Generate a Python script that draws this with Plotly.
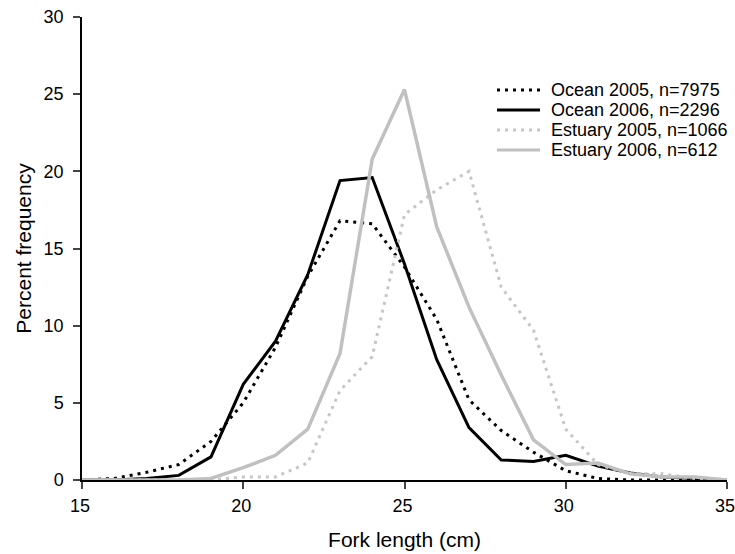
import plotly.graph_objects as go

fork_length = list(range(15, 36))

ocean_2005 = [0, 0.1, 0.5, 1.0, 2.5, 5.0, 8.6, 13.2, 16.8, 16.6, 13.8, 10.4, 5.2, 3.2, 1.8, 0.6, 0.1, 0, 0, 0, 0]
ocean_2006 = [0, 0, 0.1, 0.3, 1.5, 6.2, 9.0, 13.3, 19.4, 19.6, 14.0, 7.8, 3.4, 1.3, 1.2, 1.6, 0.9, 0.45, 0.2, 0.1, 0]
estuary_2005 = [0, 0, 0, 0, 0, 0.2, 0.2, 1.1, 5.8, 8.0, 17.2, 18.8, 20.0, 12.5, 9.7, 3.3, 1.0, 0.4, 0.4, 0.1, 0]
estuary_2006 = [0, 0, 0, 0, 0.1, 0.8, 1.6, 3.3, 8.2, 20.8, 25.3, 16.4, 11.2, 6.8, 2.6, 1.0, 1.1, 0.4, 0.2, 0.2, 0]

series_names = ["Ocean 2005, n=7975", "Ocean 2006, n=2296", "Estuary 2005, n=1066", "Estuary 2006, n=612"]
x_ticks = [15, 20, 25, 30, 35]
y_ticks = [0, 5, 10, 15, 20, 25, 30]

styles = [
    dict(color="#000000", width=3, dash="3px,5px"),
    dict(color="#000000", width=3, dash="solid"),
    dict(color="#c6c6c6", width=3, dash="3px,5px"),
    dict(color="#c0c0c0", width=3.5, dash="solid"),
]

fig = go.Figure()
for name, ys, st in zip(series_names, [ocean_2005, ocean_2006, estuary_2005, estuary_2006], styles):
    fig.add_trace(go.Scatter(x=fork_length, y=ys, mode="lines", name=name, line=st,
                             showlegend=False))

FIG_W, FIG_H = 735, 554
L, R, T, B = 82, 727, 17, 480
W, H = R - L, B - T

# manual legend (sample line + label), in paper coordinates
row_y = [90, 110, 130, 150]
for name, st, yy in zip(series_names, styles, row_y):
    py = (B - yy) / H
    fig.add_shape(type="line", xref="paper", yref="paper",
                  x0=(497 - L) / W, x1=(540 - L) / W, y0=py, y1=py,
                  line=dict(color=st["color"], width=3, dash=st["dash"]))
    fig.add_annotation(xref="paper", yref="paper", x=(549 - L) / W, y=py,
                       xanchor="left", yanchor="middle", text=name, showarrow=False,
                       font=dict(size=18, color="#000000"))

font = "Liberation Sans, Arial, sans-serif"
fig.update_layout(
    width=FIG_W, height=FIG_H,
    margin=dict(l=L, r=FIG_W - R, t=T, b=FIG_H - B),
    paper_bgcolor="white", plot_bgcolor="white",
    font=dict(family=font, size=18, color="#000000"),
    showlegend=False,
    xaxis=dict(range=[15, 35], tickvals=x_ticks, ticks="outside", ticklen=7, tickwidth=1.5,
               showline=True, linecolor="black", linewidth=1.5, showgrid=False, zeroline=False,
               automargin=False, ticklabeloverflow="allow", ticklabelstandoff=2,
               ticklabelshift=-2,
               title=dict(text="Fork length (cm)", font=dict(size=21), standoff=17),
               tickfont=dict(size=18)),
    yaxis=dict(range=[0, 30], tickvals=y_ticks, ticks="outside", ticklen=7, tickwidth=1.5,
               showline=True, linecolor="black", linewidth=1.5, showgrid=False, zeroline=False,
               automargin=False, ticklabeloverflow="allow", ticklabelstandoff=6,
               title=dict(text="Percent frequency", font=dict(size=21), standoff=6),
               tickfont=dict(size=18)),
)
fig.write_html("out.html", config={"displayModeBar": False},
               post_script="document.body.style.margin='0';document.body.style.overflow='hidden';")
